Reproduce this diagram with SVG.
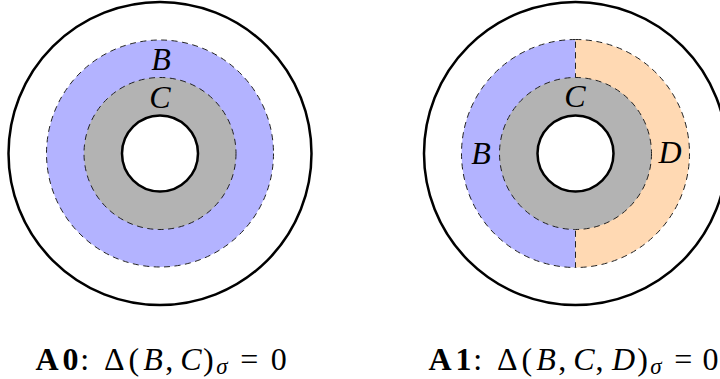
<svg xmlns="http://www.w3.org/2000/svg" width="720" height="379" viewBox="0 0 720 379">
<style>
.bg{fill:#ffffff}
.ring{fill:none;stroke:#000;stroke-width:2.5}
.hole{fill:#ffffff;stroke:#000;stroke-width:2.5}
.dash{stroke:#222;stroke-width:1;stroke-dasharray:6 4.5}
.blue{fill:#b3b3ff}
.orange{fill:#ffd9b3}
.gray{fill:#b3b3b3}
.lbl{font-family:"Liberation Serif",serif;font-style:italic;font-size:32px;text-anchor:middle;fill:#000}
.cap{font-family:"Liberation Serif",serif;font-size:32px;text-anchor:middle;fill:#000}
.b{font-weight:bold}
.i{font-style:italic}
.sub{font-size:23px;font-style:italic}
</style>
<rect class="bg" x="0" y="0" width="720" height="379"/>

<g id="A0">
  <circle class="ring" cx="160" cy="153.5" r="151.5"/>
  <g id="A0-B">
    <circle class="blue dash" cx="160" cy="153.5" r="113.5"/>
  </g>
  <g id="A0-C">
    <circle class="gray dash" cx="160" cy="153.5" r="76"/>
  </g>
  <circle class="hole" cx="160" cy="153.5" r="38"/>
  <text class="lbl" x="161" y="70">B</text>
  <text class="lbl" x="160" y="108">C</text>
</g>

<g id="A1">
  <circle class="ring" cx="575.5" cy="153.5" r="151.5"/>
  <g id="A1-B">
    <path class="blue dash" d="M575.5,39.5 A114,114 0 0 0 575.5,267.5 Z"/>
  </g>
  <g id="A1-D">
    <path class="orange dash" d="M575.5,39.5 A114,114 0 0 1 575.5,267.5 Z"/>
  </g>
  <g id="A1-C">
    <circle class="gray dash" cx="575.5" cy="153.5" r="76"/>
  </g>
  <circle class="hole" cx="575.5" cy="153.5" r="38"/>
  <text class="lbl" x="575" y="107">C</text>
  <text class="lbl" x="481" y="164">B</text>
  <text class="lbl" x="670" y="163">D</text>
</g>

<g id="caption-A0">
  <text class="cap" y="370"><tspan class="b" x="47">A</tspan><tspan class="b" x="70.4">0</tspan><tspan x="84.8">:</tspan><tspan x="114.2">Δ</tspan><tspan x="133.9">(</tspan><tspan class="i" x="153">B</tspan><tspan x="169.2">,</tspan><tspan class="i" x="191">C</tspan><tspan x="208.4">)</tspan><tspan class="sub" x="222" y="374">σ</tspan><tspan x="249.2" y="370">=</tspan><tspan x="278.8">0</tspan></text>
</g>

<g id="caption-A1">
  <text class="cap" y="370"><tspan class="b" x="440">A</tspan><tspan class="b" x="463.4">1</tspan><tspan x="477.8">:</tspan><tspan x="507.2">Δ</tspan><tspan x="526.9">(</tspan><tspan class="i" x="546">B</tspan><tspan x="562.2">,</tspan><tspan class="i" x="584">C</tspan><tspan x="599.6">,</tspan><tspan class="i" x="623.5">D</tspan><tspan x="642.6">)</tspan><tspan class="sub" x="656" y="374">σ</tspan><tspan x="683.3" y="370">=</tspan><tspan x="710.5">0</tspan></text>
</g>
</svg>
